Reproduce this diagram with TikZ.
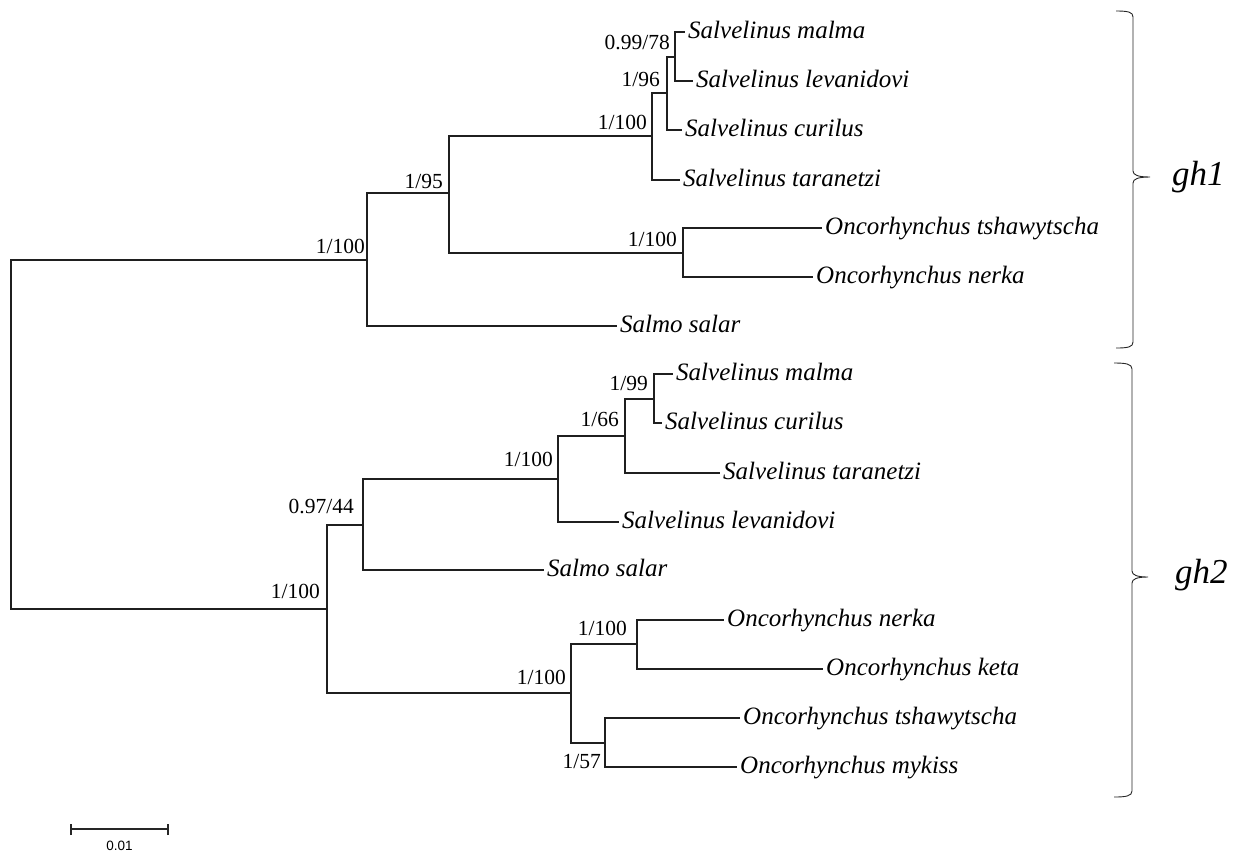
\documentclass[tikz,border=0pt]{standalone}
\usepackage{fontspec}
\setmainfont{Liberation Serif}
\newfontfamily\barlabelfont{Liberation Sans}
\begin{document}
\begin{tikzpicture}[x=1pt,y=-1pt,
  branch/.style={draw=black!88, line width=1.2pt},
  leaf/.style={anchor=west, inner xsep=3pt, inner ysep=0pt, text height=18pt, text depth=5pt, font=\fontsize{25}{30}\selectfont\itshape},
  support/.style={anchor=base east, inner sep=0pt, font=\fontsize{21.5}{26}\selectfont},
  clade/.style={anchor=base west, inner sep=0pt, font=\fontsize{35}{42}\selectfont\itshape},
  bracket/.style={draw=black!85, line width=0.9pt},
]
\useasboundingbox (0,0) rectangle (1246,852);

% ---------- internal nodes ----------
\coordinate (R)  at (11,434);
\coordinate (A1) at (367,260);
\coordinate (A2) at (449,193);
\coordinate (A3) at (652,136);
\coordinate (A4) at (667,93);
\coordinate (A5) at (675,57);
\coordinate (A6) at (683,253);
\coordinate (B1) at (327,609);
\coordinate (B2) at (363,525);
\coordinate (B3) at (558,479);
\coordinate (B4) at (625,436);
\coordinate (B5) at (654,399);
\coordinate (B6) at (571,693);
\coordinate (B7) at (637,644);
\coordinate (B8) at (605,743);

% ---------- leaves gh1 ----------
\node[leaf] (a_malma) at (685,32)  {Salvelinus malma};
\node[leaf] (a_levan) at (693,81)  {Salvelinus levanidovi};
\node[leaf] (a_curil) at (682,130) {Salvelinus curilus};
\node[leaf] (a_taran) at (680,180) {Salvelinus taranetzi};
\node[leaf] (a_tshaw) at (822,228) {Oncorhynchus tshawytscha};
\node[leaf] (a_nerka) at (813,277) {Oncorhynchus nerka};
\node[leaf] (a_salmo) at (617,326) {Salmo salar};

% ---------- leaves gh2 ----------
\node[leaf] (b_malma) at (673,374) {Salvelinus malma};
\node[leaf] (b_curil) at (662,423) {Salvelinus curilus};
\node[leaf] (b_taran) at (720,473) {Salvelinus taranetzi};
\node[leaf] (b_levan) at (619,522) {Salvelinus levanidovi};
\node[leaf] (b_salmo) at (544,570) {Salmo salar};
\node[leaf] (b_nerka) at (724,620) {Oncorhynchus nerka};
\node[leaf] (b_keta)  at (823,669) {Oncorhynchus keta};
\node[leaf] (b_tshaw) at (740,718) {Oncorhynchus tshawytscha};
\node[leaf] (b_mykis) at (737,767) {Oncorhynchus mykiss};

% ---------- branches ----------
\draw[branch] (R) |- (A1);
\draw[branch] (R) |- (B1);
\draw[branch] (A1) |- (A2);
\draw[branch] (A1) |- (a_salmo.west);
\draw[branch] (A2) |- (A3);
\draw[branch] (A2) |- (A6);
\draw[branch] (A3) |- (A4);
\draw[branch] (A3) |- (a_taran.west);
\draw[branch] (A4) |- (A5);
\draw[branch] (A4) |- (a_curil.west);
\draw[branch] (A5) |- (a_malma.west);
\draw[branch] (A5) |- (a_levan.west);
\draw[branch] (A6) |- (a_tshaw.west);
\draw[branch] (A6) |- (a_nerka.west);

\draw[branch] (B1) |- (B2);
\draw[branch] (B1) |- (B6);
\draw[branch] (B2) |- (B3);
\draw[branch] (B2) |- (b_salmo.west);
\draw[branch] (B3) |- (B4);
\draw[branch] (B3) |- (b_levan.west);
\draw[branch] (B4) |- (B5);
\draw[branch] (B4) |- (b_taran.west);
\draw[branch] (B5) |- (b_malma.west);
\draw[branch] (B5) |- (b_curil.west);
\draw[branch] (B6) |- (B7);
\draw[branch] (B6) |- (B8);
\draw[branch] (B7) |- (b_nerka.west);
\draw[branch] (B7) |- (b_keta.west);
\draw[branch] (B8) |- (b_tshaw.west);
\draw[branch] (B8) |- (b_mykis.west);

% ---------- support values ----------
\node[support] (sA1) at (365,253) {1/100};
\node[support] (sA2) at (443,188) {1/95};
\node[support] (sA3) at (647,129) {1/100};
\node[support] (sA4) at (660,86)  {1/96};
\node[support] (sA5) at (670,49)  {0.99/78};
\node[support] (sA6) at (677,246) {1/100};
\node[support] (sB1) at (320,598) {1/100};
\node[support] (sB2) at (354,513) {0.97/44};
\node[support] (sB3) at (553,466) {1/100};
\node[support] (sB4) at (619,426) {1/66};
\node[support] (sB5) at (648,390) {1/99};
\node[support] (sB6) at (566,684) {1/100};
\node[support] (sB7) at (627,635) {1/100};
\node[support] (sB8) at (601,768) {1/57};

% ---------- brackets ----------
\draw[bracket] (1116,11) .. controls (1128,11) and (1133,12) .. (1133,17)
  -- (1133,171) .. controls (1133,175) and (1138,177) .. (1150,177)
  .. controls (1138,177) and (1133,179) .. (1133,183)
  -- (1133,342) .. controls (1133,347) and (1128,348) .. (1116,348);
\draw[bracket] (1114,363) .. controls (1126,363) and (1132,364) .. (1132,369)
  -- (1132,571) .. controls (1132,575) and (1137,577) .. (1148,577)
  .. controls (1137,577) and (1132,579) .. (1132,583)
  -- (1132,791) .. controls (1132,796) and (1126,797) .. (1114,797);
\node[clade] (gh1) at (1172,185) {gh1};
\node[clade] (gh2) at (1175,583) {gh2};

% ---------- scale bar ----------
\coordinate (sb1) at (71,829);
\coordinate (sb2) at (168,829);
\draw[draw=black!85, line width=1.1pt] (sb1) -- (sb2);
\draw[draw=black!85, line width=1.1pt] ([yshift=-6pt]sb1) -- ([yshift=5pt]sb1);
\draw[draw=black!85, line width=1.1pt] ([yshift=-6pt]sb2) -- ([yshift=5pt]sb2);
\node[anchor=base, inner sep=0pt, font=\barlabelfont\fontsize{13.5}{16}\selectfont] (sbl) at (119.5,850) {0.01};
\end{tikzpicture}
\end{document}
